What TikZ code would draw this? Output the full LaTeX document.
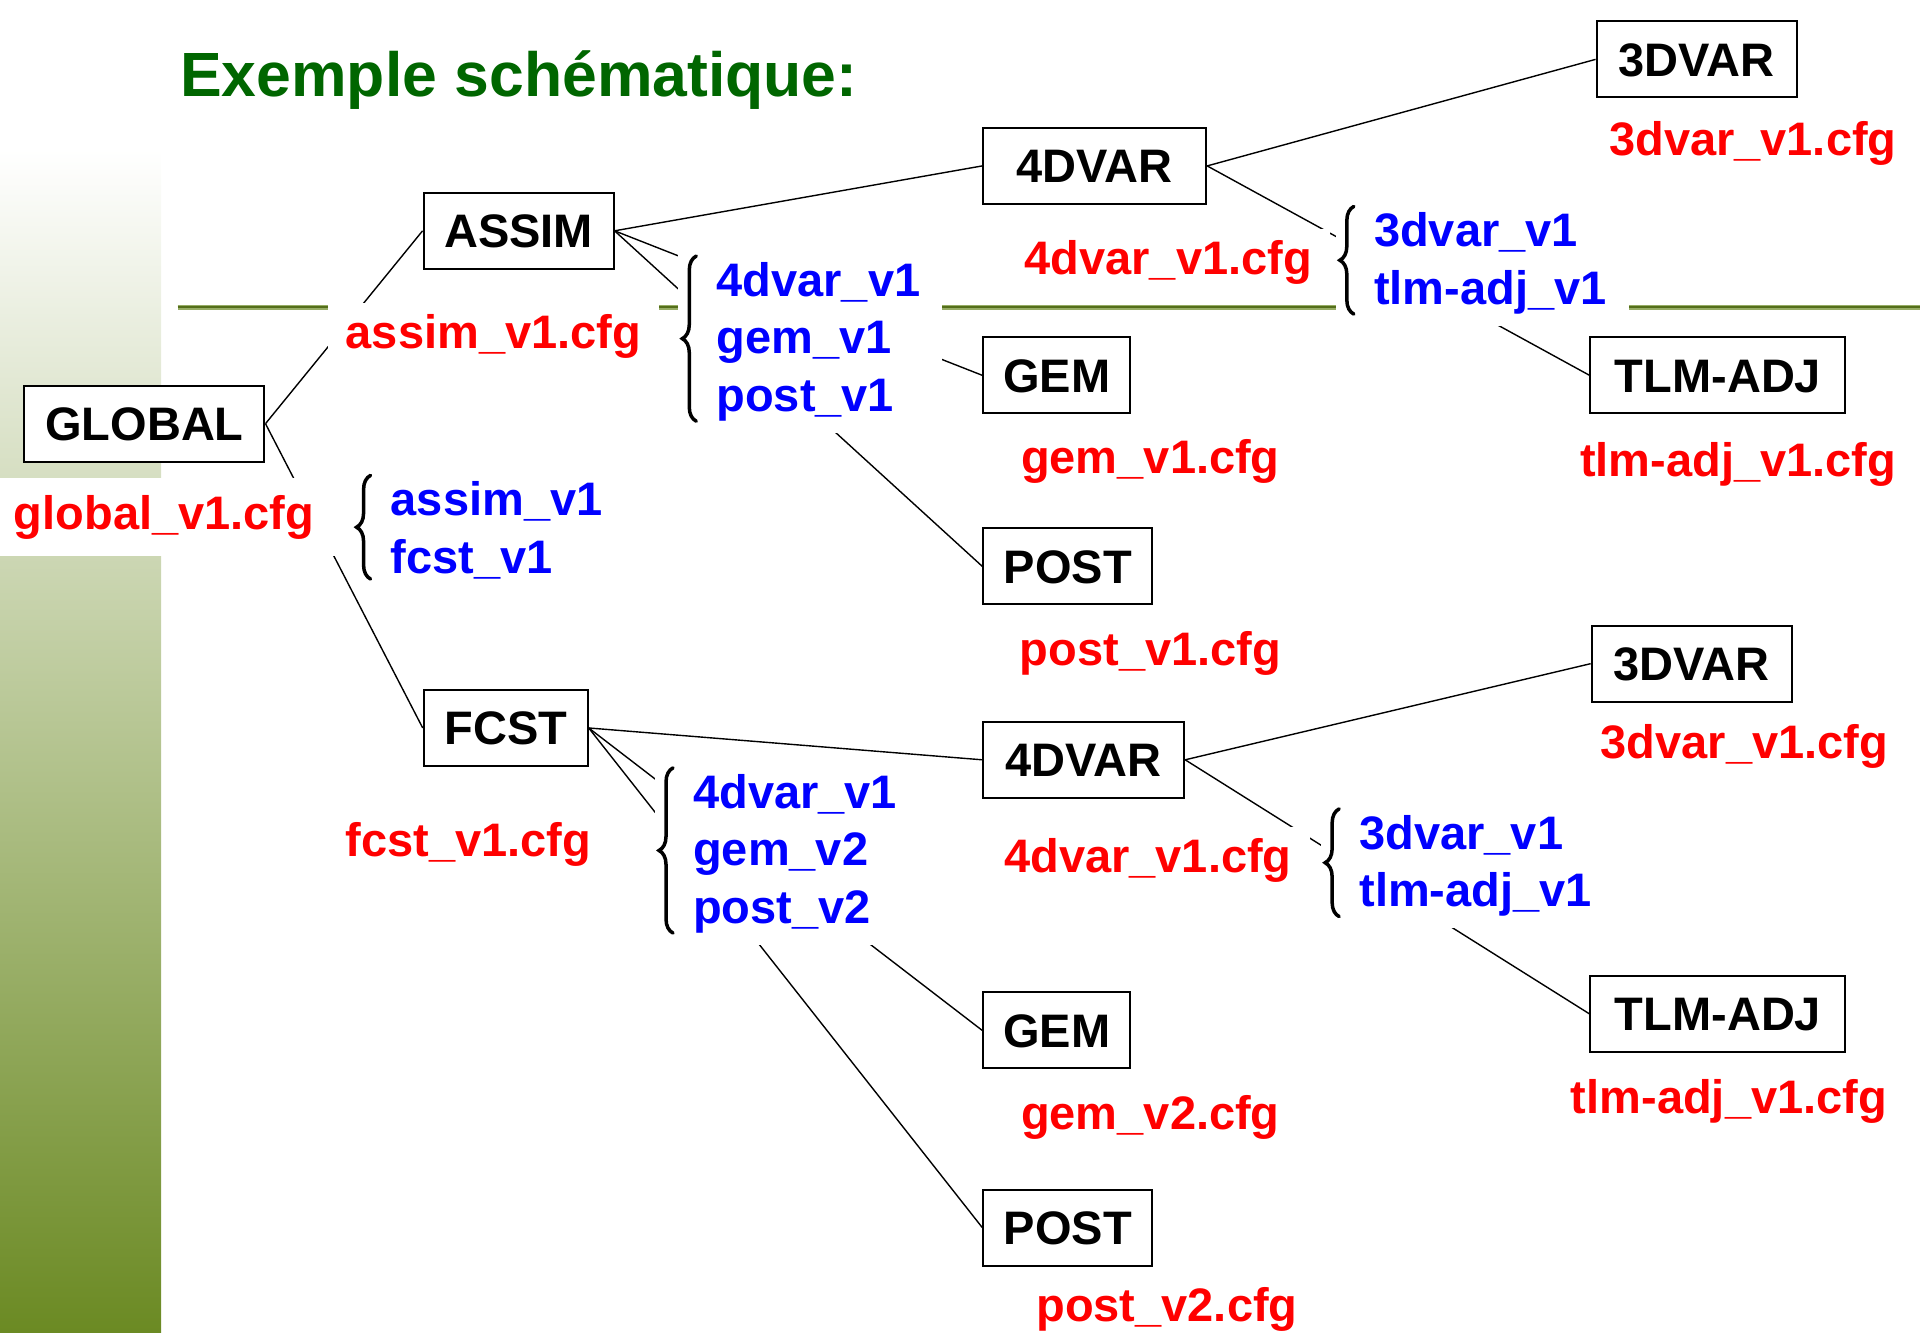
\documentclass[tikz,border=0pt]{standalone}
\usepackage{fontspec}
\setmainfont{Liberation Sans}
\usetikzlibrary{decorations.pathreplacing}
\definecolor{titlegreen}{RGB}{0,102,0}
\definecolor{barolive}{RGB}{107,138,35}
\definecolor{ruledark}{RGB}{84,110,26}
\definecolor{rulelight}{RGB}{150,172,100}
\definecolor{cfgred}{RGB}{255,0,0}
\definecolor{keyblue}{RGB}{0,0,255}

\begin{document}
\begin{tikzpicture}[x=1.2245pt,y=-1.2245pt,
  every node/.style={font=\fontsize{47}{57.5}\selectfont\bfseries},
  module/.style={draw=black, line width=2pt, fill=white, inner sep=0pt,
    minimum height=76pt, text height=33.7pt, text depth=0pt},
  cfg/.style={text=cfgred, fill=white, inner xsep=18pt, inner ysep=10pt,
    text height=35.2pt, text depth=10.3pt, yshift=-2.6pt},
  keys/.style={text=keyblue, fill=white, align=left, inner xsep=22pt,
    inner ysep=12pt, anchor=west},
  link/.style={line width=1.4pt},
  curly/.style={decorate, decoration={brace, amplitude=14pt, aspect=0.5},
    line width=3.5pt, line cap=round}
]
\useasboundingbox (0,0) rectangle (1568,1088);

% side bar and title rule
\shade[top color=white, bottom color=barolive] (0,122) rectangle (131.5,1088);
\coordinate (ruleL) at (145,251);
\coordinate (ruleR) at (1568,251);
\draw[rulelight, line width=5pt] (ruleL) -- (ruleR);
\draw[ruledark, line width=2.2pt] (ruleL) -- (ruleR);

% title
\node[font=\fontsize{62.5}{75}\selectfont\bfseries, text=titlegreen,
  anchor=base west, inner sep=0pt] (title) at (147,79) {Exemple schématique:};

% modules
\node[module, minimum width=240pt] (global) at (118,346) {GLOBAL};
\node[module, minimum width=190pt] (assim) at (423.5,188.5) {ASSIM};
\node[module, minimum width=164pt] (fcst) at (413,594.5) {FCST};
\node[module, minimum width=223pt] (avar) at (894,135.5) {4DVAR};
\node[module, minimum width=200pt] (atvar) at (1385.5,48.5) {3DVAR};
\node[module, minimum width=147pt] (agem) at (863,306.5) {GEM};
\node[module, minimum width=169pt] (apost) at (872,462.5) {POST};
\node[module, minimum width=255pt] (atlm) at (1403,306.5) {TLM-ADJ};
\node[module, minimum width=201pt] (fvar) at (885,620.5) {4DVAR};
\node[module, minimum width=200pt] (ftvar) at (1381.5,542) {3DVAR};
\node[module, minimum width=255pt] (ftlm) at (1403,828) {TLM-ADJ};
\node[module, minimum width=147pt] (fgem) at (863,841.5) {GEM};
\node[module, minimum width=169pt] (fpost) at (872,1002.5) {POST};

% tree links
\draw[link] (global.east) -- (assim.west);
\draw[link] (global.east) -- (fcst.west);
\draw[link] (assim.east) -- (avar.west);
\draw[link] (assim.east) -- (agem.west);
\draw[link] (assim.east) -- (apost.west);
\draw[link] (avar.east) -- (atvar.west);
\draw[link] (avar.east) -- (atlm.west);
\draw[link] (fcst.east) -- (fvar.west);
\draw[link] (fcst.east) -- (fgem.west);
\draw[link] (fcst.east) -- (fpost.west);
\draw[link] (fvar.east) -- (ftvar.west);
\draw[link] (fvar.east) -- (ftlm.west);

% configuration files
\node[cfg, minimum width=343pt, minimum height=78pt] (cglobal) at (134,420) {global\_v1.cfg};
\node[cfg] (cassim) at (403,272) {assim\_v1.cfg};
\node[cfg] (cfcst) at (382.5,687) {fcst\_v1.cfg};
\node[cfg] (cavar) at (954,212) {4dvar\_v1.cfg};
\node[cfg] (catvar) at (1431.5,115) {3dvar\_v1.cfg};
\node[cfg] (cagem) at (939.5,374) {gem\_v1.cfg};
\node[cfg] (capost) at (939.5,531) {post\_v1.cfg};
\node[cfg] (catlm) at (1419.5,377) {tlm-adj\_v1.cfg};
\node[cfg] (cfvar) at (937.5,700) {4dvar\_v1.cfg};
\node[cfg] (cftvar) at (1424.5,607) {3dvar\_v1.cfg};
\node[cfg] (cfgem) at (939.5,910) {gem\_v2.cfg};
\node[cfg] (cfpost) at (953,1067) {post\_v2.cfg};
\node[cfg] (cftlm) at (1412,897) {tlm-adj\_v1.cfg};

% selected sub-configurations
\node[keys] (kglobal) at (301,433) {assim\_v1\\fcst\_v1};
\node[keys] (kassim) at (567,279) {4dvar\_v1\\gem\_v1\\post\_v1};
\node[keys] (kavar) at (1104,215) {3dvar\_v1\\tlm-adj\_v1};
\node[keys] (kfcst) at (548,697) {4dvar\_v1\\gem\_v2\\post\_v2};
\node[keys] (kfvar) at (1092,707) {3dvar\_v1\\tlm-adj\_v1};

\foreach \k in {kglobal,kassim,kavar,kfcst,kfvar}{
  \fill[white] ([xshift=-16pt]\k.south west) rectangle (\k.north west);
  \draw[curly] ([xshift=2pt,yshift=12pt]\k.south west) -- ([xshift=2pt,yshift=-6pt]\k.north west);
}
\end{tikzpicture}
\end{document}
